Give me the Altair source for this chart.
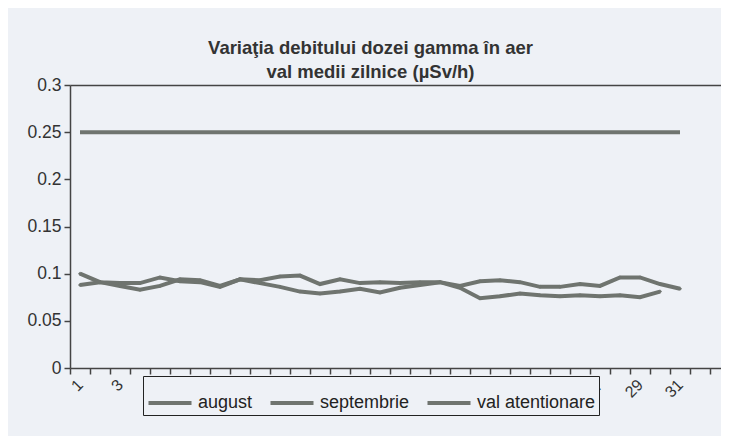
import altair as alt
import pandas as pd

days_aug = list(range(1, 32))
august = [0.088, 0.091, 0.087, 0.083, 0.087, 0.094, 0.093, 0.087, 0.094, 0.090,
          0.086, 0.081, 0.079, 0.081, 0.084, 0.080, 0.085, 0.088, 0.091, 0.087,
          0.092, 0.093, 0.091, 0.086, 0.086, 0.089, 0.087, 0.096, 0.096, 0.089,
          0.084]
days_sep = list(range(1, 31))
septembrie = [0.100, 0.091, 0.090, 0.090, 0.096, 0.092, 0.091, 0.086, 0.094, 0.093,
              0.097, 0.098, 0.089, 0.094, 0.090, 0.091, 0.090, 0.091, 0.091, 0.085,
              0.074, 0.076, 0.079, 0.077, 0.076, 0.077, 0.076, 0.077, 0.075, 0.081]
days_alert = list(range(1, 32))
val_atentionare = [0.25] * 31

series_names = ["august", "septembrie", "val atentionare"]
x_categories = list(range(1, 33))
y_ticks = [0, 0.05, 0.1, 0.15, 0.2, 0.25, 0.3]

rows = []
for d, v in zip(days_aug, august):
    rows.append({"day": d, "value": v, "serie": series_names[0]})
for d, v in zip(days_sep, septembrie):
    rows.append({"day": d, "value": v, "serie": series_names[1]})
for d, v in zip(days_alert, val_atentionare):
    rows.append({"day": d, "value": v, "serie": series_names[2]})
df = pd.DataFrame(rows)

GRAY = "#6f746f"
BG = "#eef1f6"
FONT = "Liberation Sans, Arial"

x_scale = alt.Scale(type="band", domain=x_categories, paddingInner=0,
                    paddingOuter=0.275, align=0)
x = alt.X(
    "day:O",
    scale=x_scale,
    axis=alt.Axis(
        title=None,
        grid=False,
        tickBand="extent",
        labelExpr="(datum.value % 2 == 1 && datum.value <= 31) ? datum.label : ''",
        labelAngle=-45,
        labelAlign="right",
        labelBaseline="middle",
        labelPadding=8,
        labelFontSize=16,
        labelColor="#333333",
        labelFont=FONT,
        labelOverlap=False,
        tickSize=6,
        tickWidth=1.5,
        tickColor="#444444",
        domainColor="#444444",
        domainWidth=1.5,
    ),
)
y = alt.Y(
    "value:Q",
    scale=alt.Scale(domain=[0, 0.3], nice=False),
    axis=alt.Axis(
        values=y_ticks,
        title=None,
        format=".2~f",
        grid=True,
        gridColor="#444444",
        gridWidth=1.5,
        gridOpacity={"condition": {"test": "datum.value > 0.29", "value": 1}, "value": 0},
        labelFontSize=17.5,
        labelColor="#333333",
        labelFont=FONT,
        labelPadding=3,
        tickSize=6,
        tickWidth=1.5,
        tickColor="#444444",
        domainColor="#444444",
        domainWidth=1.5,
    ),
)
color = alt.Color(
    "serie:N",
    scale=alt.Scale(domain=series_names, range=[GRAY, GRAY, GRAY]),
    legend=alt.Legend(
        title=None,
        orient="none",
        legendX=73,
        legendY=291,
        direction="horizontal",
        symbolType="stroke",
        symbolSize=1850,
        symbolStrokeWidth=4,
        symbolStrokeColor=GRAY,
        labelFontSize=18,
        labelFont=FONT,
        labelColor="#222222",
        labelOffset=4,
        columnPadding=9,
        padding=3,
        strokeColor="#222222",
        fillColor=BG,
    ),
)

lines = alt.Chart(df).mark_line(strokeWidth=4).encode(x=x, y=y, color=color, detail="serie:N")
points = alt.Chart(df[df["serie"] != "val atentionare"]).mark_point(
    filled=True, size=16, shape="diamond", color=GRAY, opacity=1
).encode(x=alt.X("day:O", scale=x_scale), y="value:Q")

chart = alt.layer(lines, points).properties(
    width=651,
    height=283,
    autosize=alt.AutoSizeParams(type="none"),
    padding={"left": 62, "top": 77, "right": 0, "bottom": 68},
    background=BG,
    title=alt.TitleParams(
        text=["Variaţia debitului dozei gamma în aer", "val medii zilnice (µSv/h)"],
        font=FONT,
        fontSize=18.5,
        fontWeight="bold",
        color="#333333",
        lineHeight=24,
        anchor="middle",
        dx=-25,
        offset=-5,
    ),
).configure_view(stroke=None)

chart.save("out.html", embed_options={"renderer": "svg", "actions": False})
